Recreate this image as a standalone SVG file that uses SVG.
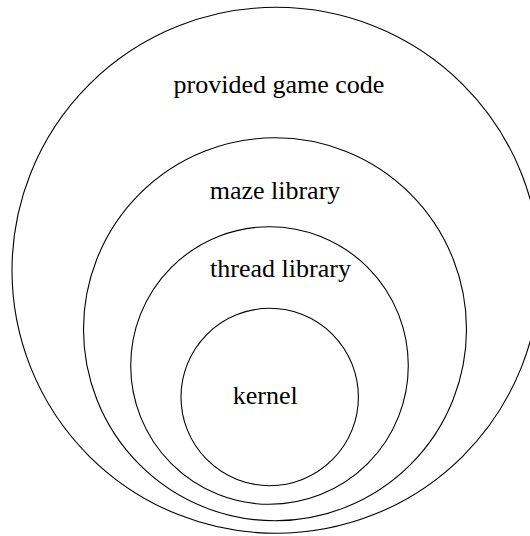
<svg xmlns="http://www.w3.org/2000/svg" width="530" height="536" viewBox="0 0 530 536">
<style>
.c{fill:none;stroke:#000;stroke-width:1.1}
.t{font-family:"Liberation Serif","Times New Roman",serif;font-size:26px;fill:#000;text-anchor:middle}
</style>
<rect width="530" height="536" fill="#fff"/>
<g id="game">
<ellipse class="c" cx="276" cy="270.3" rx="264" ry="263"/>
<text class="t" x="279" y="93.3">provided game code</text>
</g>
<g id="maze">
<circle class="c" cx="275" cy="329.3" r="191.5"/>
<text class="t" x="275" y="199.3">maze library</text>
</g>
<g id="thread">
<circle class="c" cx="269.5" cy="365.5" r="138.8"/>
<text class="t" x="280.5" y="276.7">thread library</text>
</g>
<g id="kernel">
<circle class="c" cx="269.7" cy="397" r="88.7"/>
<text class="t" x="265.2" y="404.3">kernel</text>
</g>
<g id="connectors"/>
</svg>
